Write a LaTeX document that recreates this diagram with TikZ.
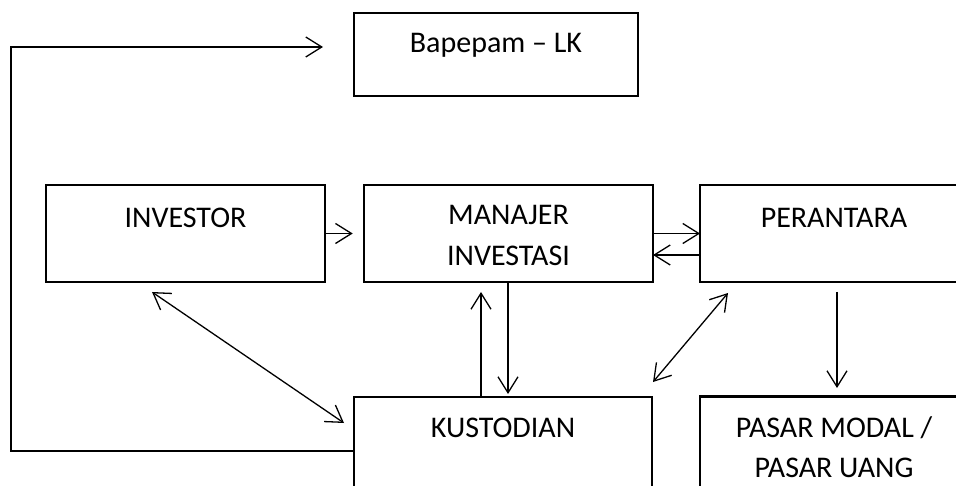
\documentclass[tikz,border=0pt]{standalone}
\usepackage{fontspec}
\setmainfont{Carlito}
\usetikzlibrary{arrows.meta}
\begin{document}
\begin{tikzpicture}[x=1pt,y=-1pt,
  box/.style={draw, line width=2.6pt, inner sep=0pt, minimum width=#1},
  lbl/.style={anchor=base, inner sep=0pt, font=\fontsize{30}{36}\selectfont},
  con/.style={line width=1.3pt, -{Straight Barb[length=16pt,width=20pt,line width=1.3pt]}},
  bicon/.style={line width=1.3pt, {Straight Barb[length=16pt,width=20pt,line width=1.3pt]}-{Straight Barb[length=16pt,width=20pt,line width=1.3pt]}}]
\useasboundingbox (0,0) rectangle (956,486);
\clip (0,0) rectangle (956,486);
% boxes
\node[box=284pt, minimum height=83pt] (bap) at (496,54.5) {};
\node[box=279pt, minimum height=97pt] (inv) at (185.5,233.5) {};
\node[box=289pt, minimum height=97pt] (man) at (508.5,233.5) {};
\node[box=268pt, minimum height=97pt] (per) at (834,233.5) {};
\node[box=298pt, minimum height=104pt] (kus) at (503,449) {};
\node[box=268pt, minimum height=104pt] (pas) at (834,448.5) {};
% texts
\node[lbl] (tbap) at (496,53) {Bapepam – LK};
\node[lbl] (tinv) at (185.5,228) {INVESTOR};
\node[lbl] (tman1) at (508.5,225) {MANAJER};
\node[lbl] (tman2) at (508.5,266) {INVESTASI};
\node[lbl] (tper) at (834,228) {PERANTARA};
\node[lbl] (tkus) at (503,437) {KUSTODIAN};
\node[lbl] (tpas1) at (834,437) {PASAR MODAL /};
\node[lbl] (tpas2) at (834,477) {PASAR UANG};
% coordinates
\coordinate (fb0) at (kus.west |- 0,451);
\coordinate (fb1) at (11,451);
\coordinate (fb2) at (11,47);
\coordinate (fb3) at (323,47);
\coordinate (ik1) at (152,292);
\coordinate (ik2) at (344,423);
\coordinate (pk1) at (728,293);
\coordinate (pk2) at (653,382);
\coordinate (mk1) at (508,282);
\coordinate (mk2) at (508,394);
\coordinate (km1) at (481,397);
\coordinate (km2) at (481,292);
\coordinate (pp1) at (837,292);
\coordinate (pp2) at (837,388);
\coordinate (mp1) at (653,233.5);
\coordinate (mp2) at (700,233.5);
\coordinate (pm1) at (700,255);
\coordinate (pm2) at (653,255);
% connectors
\draw[con] (fb0) -- (fb1) -- (fb2) -- (fb3);
\draw[con, shorten >=10pt] (inv.east) -- (man.west);
\draw[con] (mp1) -- (mp2);
\draw[con] (pm1) -- (pm2);
\draw[bicon] (ik1) -- (ik2);
\draw[bicon] (pk1) -- (pk2);
\draw[con] (mk1) -- (mk2);
\draw[con] (km1) -- (km2);
\draw[con] (pp1) -- (pp2);
\end{tikzpicture}
\end{document}
